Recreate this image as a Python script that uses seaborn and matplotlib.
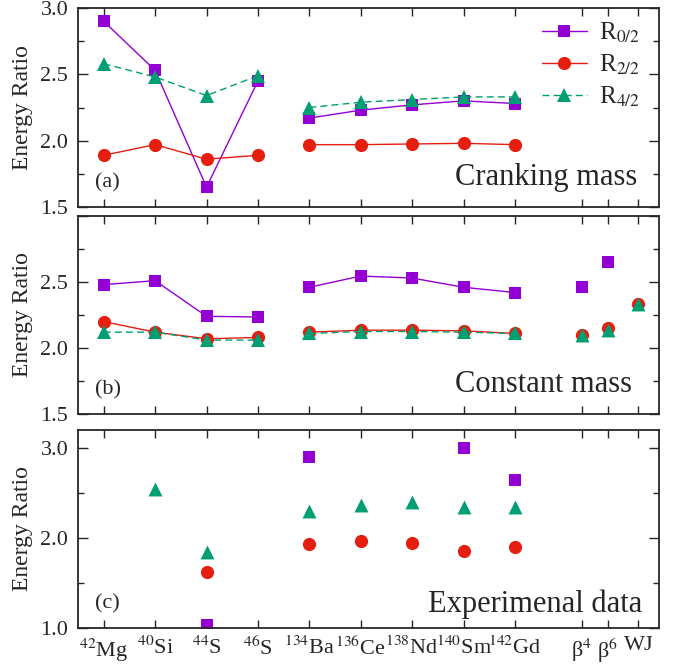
import numpy as np
import pandas as pd
import matplotlib
matplotlib.use('Agg')
import matplotlib.pyplot as plt
import seaborn as sns

# Etiquetas do eixo x
nuclei = ['$^{42}$Mg', '$^{40}$Si', '$^{44}$S', '$^{46}$S', '$^{134}$Ba',
          '$^{136}$Ce', '$^{138}$Nd', '$^{140}$Sm', '$^{142}$Gd']
limits = ['β$^4$', 'β$^6$', 'WJ']
segment = [0, 0, 0, 0, 1, 1, 1, 1, 1]  # grupos ligados por linha

# (a) Cranking mass
crank_r02 = [2.90, 2.53, 1.65, 2.45, 2.17, 2.23, 2.27, 2.30, 2.28]
crank_r22 = [1.89, 1.97, 1.86, 1.89, 1.97, 1.97, 1.975, 1.98, 1.97]
crank_r42 = [2.58, 2.48, 2.34, 2.49, 2.25, 2.29, 2.31, 2.33, 2.33]

# (b) Constant mass
const_r02 = [2.48, 2.51, 2.24, 2.235, 2.46, 2.545, 2.53, 2.46, 2.42]
const_r22 = [2.20, 2.12, 2.07, 2.08, 2.12, 2.135, 2.135, 2.13, 2.11]
const_r42 = [2.12, 2.12, 2.06, 2.06, 2.11, 2.125, 2.125, 2.12, 2.11]
limit_r02 = [2.46, 2.65, np.nan]
limit_r22 = [2.10, 2.15, 2.33]
limit_r42 = [2.10, 2.14, 2.33]

# (c) Experimental data
exp_r02 = [np.nan, np.nan, 1.03, np.nan, 2.90, np.nan, np.nan, 3.00, 2.65]
exp_r22 = [np.nan, np.nan, 1.62, np.nan, 1.93, 1.97, 1.94, 1.86, 1.90]
exp_r42 = [np.nan, 2.55, 1.85, np.nan, 2.30, 2.37, 2.40, 2.34, 2.34]

sns.set_style('ticks')
plt.rcParams['font.family'] = ['Liberation Serif', 'DejaVu Serif']
plt.rcParams['mathtext.fontset'] = 'stix'

purple, red, green = '#9400d3', '#e51e10', '#009e73'
styles = [('R$_{0/2}$', purple, 's', 8.5, '-'),
          ('R$_{2/2}$', red, 'o', 9.5, '-'),
          ('R$_{4/2}$', green, '^', 10, (0, (5, 3)))]

nuc_pos = np.arange(len(nuclei))
lim_pos = np.array([9.3, 9.8, 10.4])

W, H = 678, 670
fig = plt.figure(figsize=(W / 100, H / 100), dpi=100)
boxes = [(8, 207), (216, 414), (430, 628)]
axes = [fig.add_axes([78 / W, 1 - b / H, 581 / W, (b - t) / H]) for t, b in boxes]


def draw_lines(ax, series):
    for (lab, col, mk, ms, ls), vals in zip(styles, series):
        df = pd.DataFrame({'x': nuc_pos, 'y': vals, 'seg': segment})
        sns.lineplot(data=df, x='x', y='y', units='seg', estimator=None, sort=False,
                     color=col, marker=mk, markersize=ms, linestyle=ls, linewidth=1.0,
                     markeredgewidth=0, ax=ax, legend=False)


def draw_points(ax, x, series):
    for (lab, col, mk, ms, ls), vals in zip(styles, series):
        sns.scatterplot(x=x, y=vals, color=col, marker=mk, s=ms ** 2,
                        linewidth=0, ax=ax, legend=False)


draw_lines(axes[0], [crank_r02, crank_r22, crank_r42])
draw_lines(axes[1], [const_r02, const_r22, const_r42])
draw_points(axes[1], lim_pos, [limit_r02, limit_r22, limit_r42])
draw_points(axes[2], nuc_pos, [exp_r02, exp_r22, exp_r42])

texts = ['Cranking mass', 'Constant mass', 'Experimenal data']
text_pos = [(0.962, 0.11), (0.953, 0.111), (0.972, 0.081)]
tags = ['(a)', '(b)', '(c)']
ticks_pos = np.concatenate([nuc_pos, lim_pos])

for i, ax in enumerate(axes):
    ax.set_xlim(-0.5, 10.8)
    ax.set_xticks(ticks_pos)
    ax.set_xlabel('')
    ax.set_ylabel('Energy Ratio', fontsize=17)
    ax.yaxis.set_label_coords(-0.077, 0.5)
    ax.tick_params(which='both', direction='in', top=True, right=True, labelsize=16)
    ax.tick_params(axis='y', which='major', length=7, width=1.0, pad=7)
    ax.tick_params(axis='y', which='minor', length=4, width=1.0)
    ax.tick_params(axis='x', length=6, width=1.0, pad=6)
    for sp in ax.spines.values():
        sp.set_linewidth(1.3)
    ax.text(text_pos[i][0], text_pos[i][1], texts[i], transform=ax.transAxes,
            ha='right', va='baseline', fontsize=22)
    ax.text(0.029, 0.12, tags[i], transform=ax.transAxes, ha='left', va='center',
            fontsize=16)

for ax in axes[:2]:
    ax.set_ylim(1.5, 3.0)
    ax.set_yticks([1.5, 2.0, 2.5, 3.0])
    ax.set_yticks(np.arange(1.5, 3.01, 0.25), minor=True)
    ax.set_yticklabels(['1.5', '2.0', '2.5', '3.0'])
    ax.set_xticklabels([])
axes[1].set_yticklabels(['1.5', '2.0', '2.5', ''])

axes[2].set_ylim(1.0, 3.2)
axes[2].set_yticks([1.0, 2.0, 3.0])
axes[2].set_yticks([1.5, 2.5], minor=True)
axes[2].set_yticklabels(['1.0', '2.0', '3.0'])
axes[2].set_xticklabels(nuclei + limits)

# legenda: uma linha por série (cada série tem dois segmentos)
lines = axes[0].get_lines()
axes[0].legend(handles=[lines[0], lines[2], lines[4]], labels=[s[0] for s in styles],
               loc='upper right', bbox_to_anchor=(0.985, 0.985), frameon=False,
               fontsize=18, handlelength=1.8, handletextpad=0.5, labelspacing=0.3,
               borderaxespad=0)

fig.savefig('out.png', dpi=100)
